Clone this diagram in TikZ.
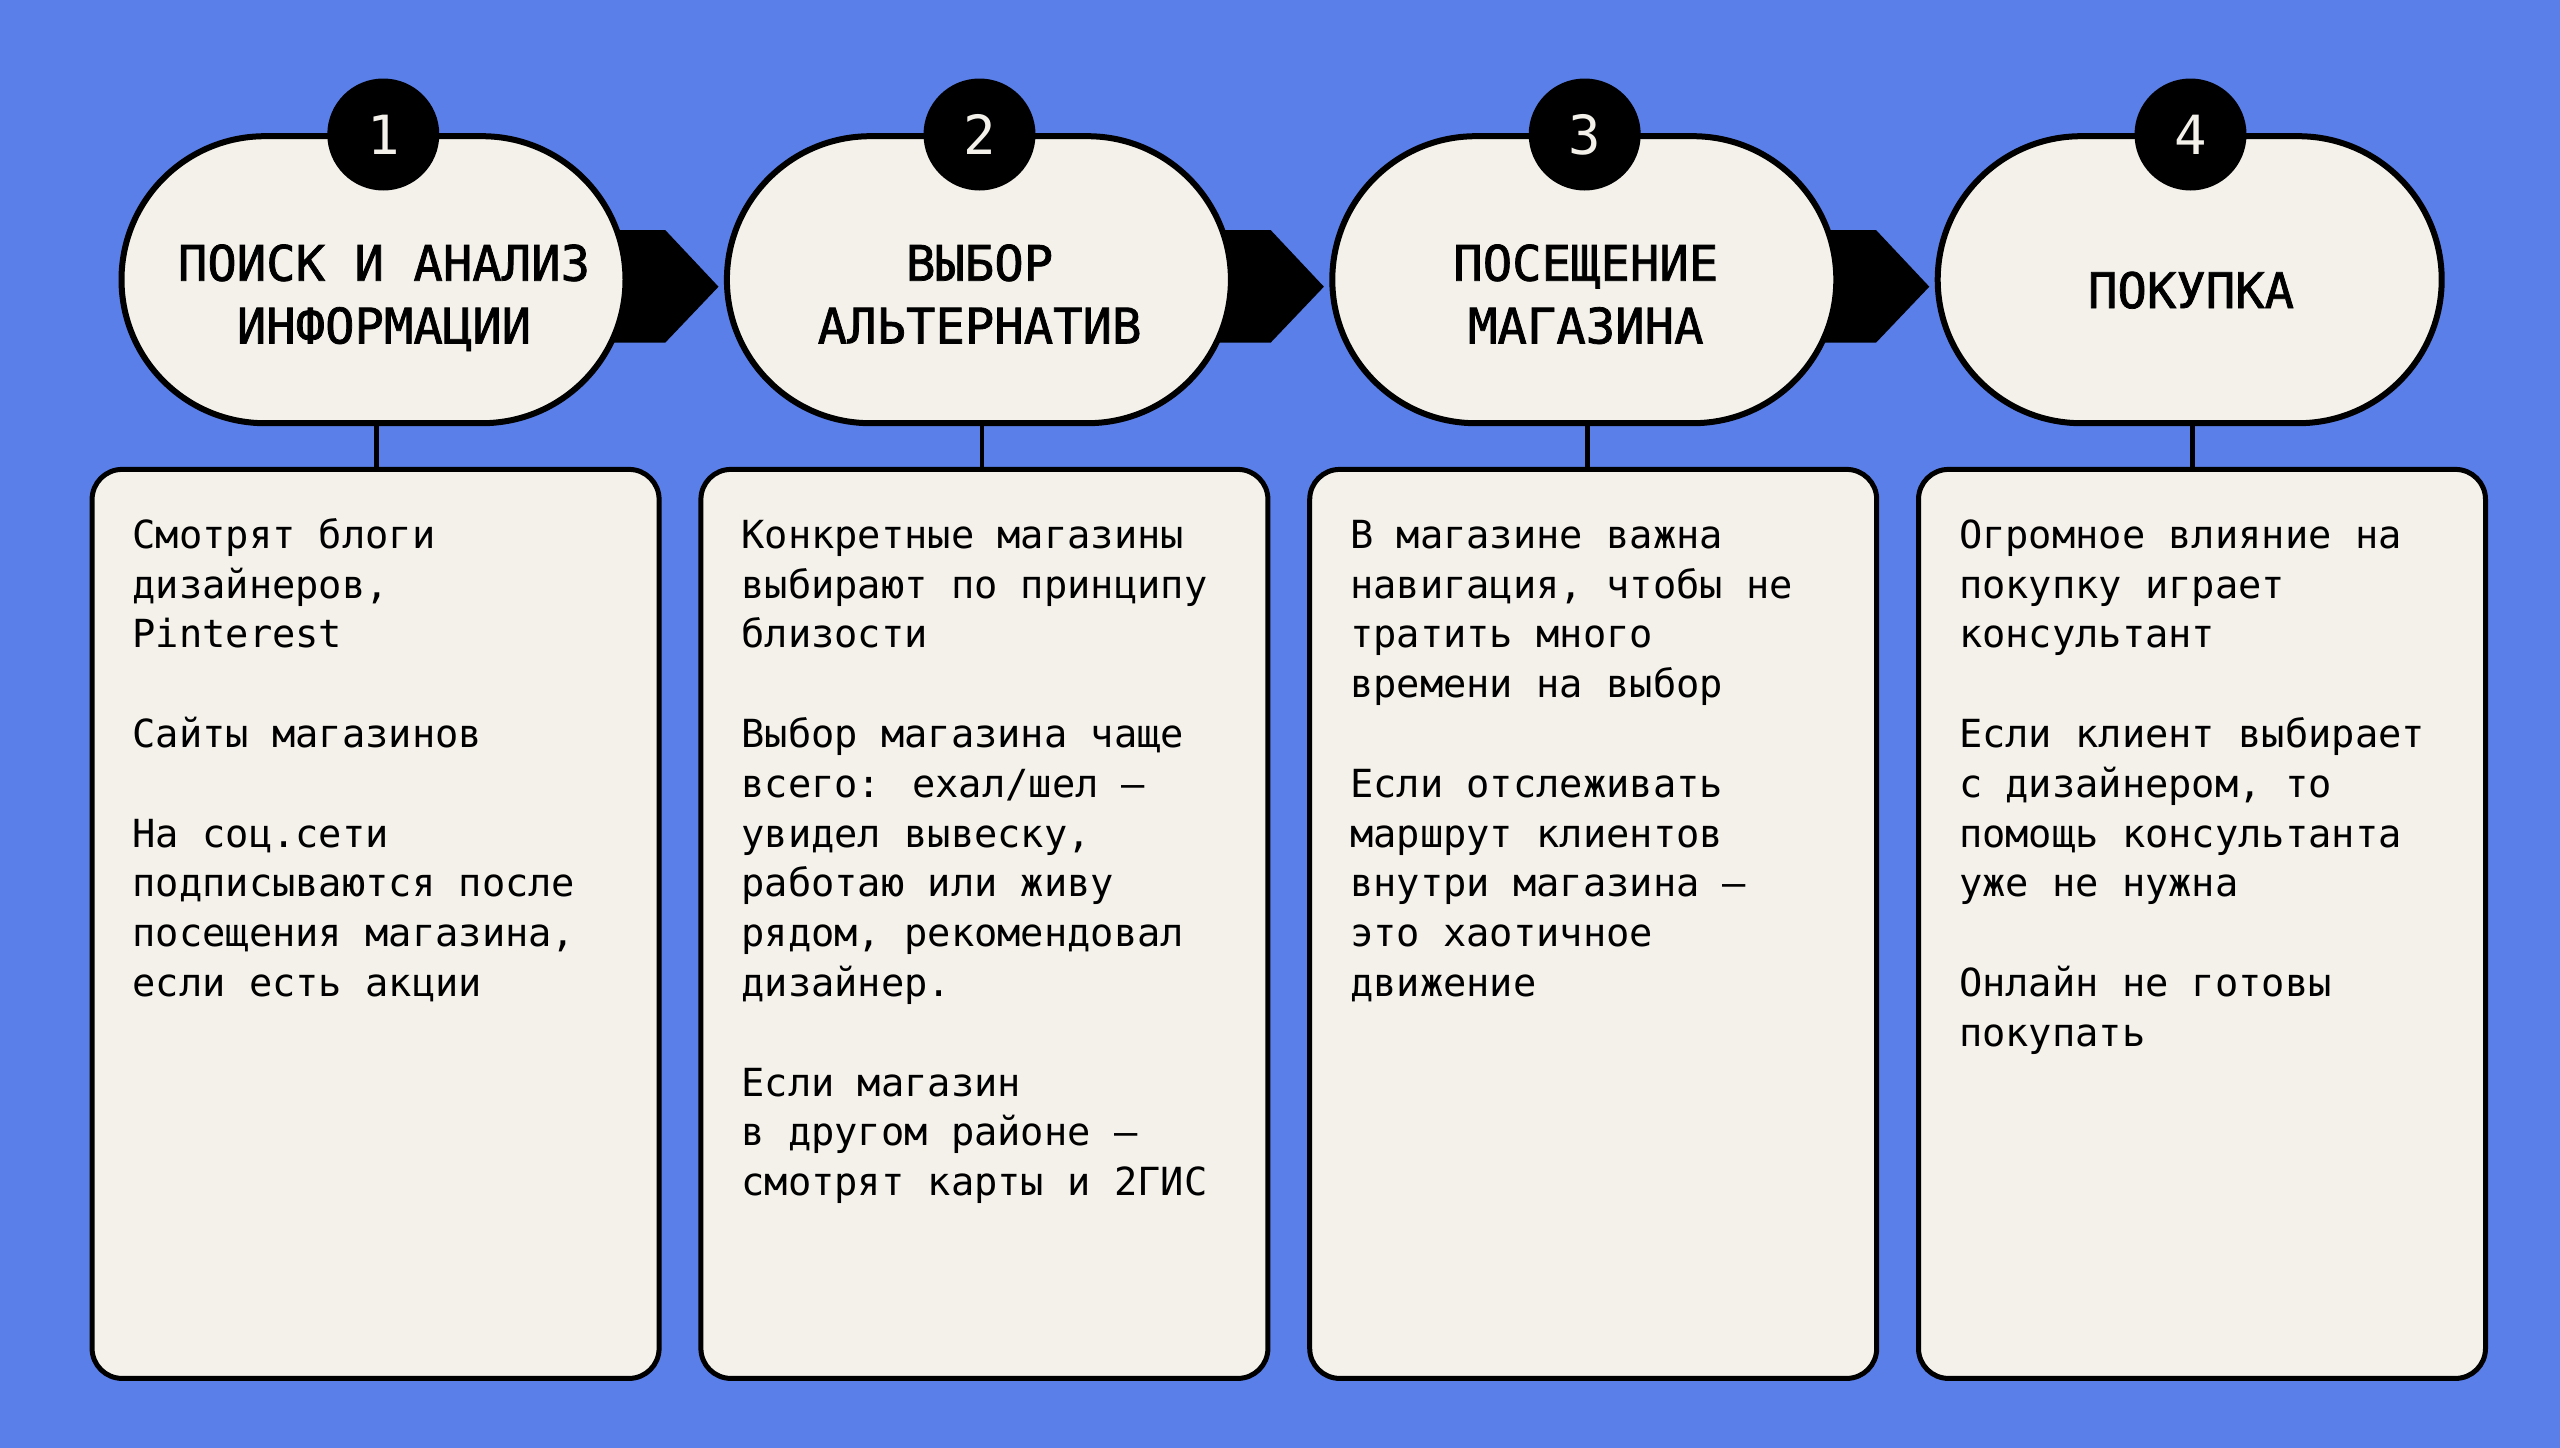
\documentclass[tikz,border=0pt]{standalone}
\usepackage{fontspec}
\usetikzlibrary{shapes.misc}
\newfontfamily\plexlike{DejaVu Sans Mono}
\newfontfamily\plexmedium[FakeBold=1.5]{DejaVu Sans Mono}
\definecolor{bgblue}{HTML}{5A7FE8}
\definecolor{cream}{HTML}{F3F1EA}
\newcommand\stagefont{\plexmedium\fontsize{48.9pt}{62.7pt}\selectfont}
\newcommand\bodytextfont{\plexlike\fontsize{38.7pt}{49.8pt}\selectfont}
\newcommand\blankrow{\\[49.8pt]}
\newcommand\stagetitle[1]{\parbox[t]{500pt}{\stagefont\centering #1}}
\newcommand\notelines[1]{\parbox[t]{530pt}{\bodytextfont\raggedright #1}}

\begin{document}
\begin{tikzpicture}[x=1pt,y=-1pt,
  stagepill/.style={rounded rectangle, draw=black, line width=6pt, fill=cream,
    minimum width=504pt, minimum height=287pt, inner sep=0pt, outer sep=0pt},
  numdisc/.style={circle, fill=black, minimum size=112pt, inner sep=0pt,
    text=cream, font=\plexlike\fontsize{54pt}{54pt}\selectfont},
  headtext/.style={inner sep=0pt, anchor=base},
  notebox/.style={rectangle, rounded corners=30pt, draw=black, line width=5pt,
    fill=cream, minimum width=567pt, minimum height=909pt, inner sep=0pt, outer sep=0pt},
  notetext/.style={inner sep=0pt, anchor=base west},
  chevron/.style={fill=black},
  link/.style={draw=black, line width=4.5pt}
]
% background
\fill[bgblue] (0,0) rectangle (2560,1448);

% stage centres
\coordinate (c1) at (373.5,279.7);
\coordinate (c2) at (978.9,279.7);
\coordinate (c3) at (1584.3,279.7);
\coordinate (c4) at (2189.7,279.7);

% chevrons between stages (partly hidden behind the pills)
\foreach \c in {c1,c2,c3}{
  \fill[chevron] ([shift={(200,-49.7)}]\c) -- ([shift={(291.7,-49.7)}]\c)
    -- ([shift={(345,7)}]\c) -- ([shift={(291.7,63)}]\c)
    -- ([shift={(200,63)}]\c) -- cycle;
}

% pills
\node[stagepill] (p1) at (c1) {};
\node[stagepill] (p2) at (c2) {};
\node[stagepill] (p3) at (c3) {};
\node[stagepill] (p4) at (c4) {};

% step numbers
\node[numdisc] (n1) at (383.3,134.5) {1};
\node[numdisc] (n2) at (979.5,134.5) {2};
\node[numdisc] (n3) at (1584.7,134.5) {3};
\node[numdisc] (n4) at (2190.5,134.5) {4};

% stage titles
\node[headtext] (h1) at (384,280.7) {\stagetitle{ПОИСК И АНАЛИЗ\\ИНФОРМАЦИИ}};
\node[headtext] (h2) at (979.6,280.7) {\stagetitle{ВЫБОР\\АЛЬТЕРНАТИВ}};
\node[headtext] (h3) at (1585.8,280.7) {\stagetitle{ПОСЕЩЕНИЕ\\МАГАЗИНА}};
\node[headtext] (h4) at (2191,308) {\stagetitle{ПОКУПКА}};

% note boxes
\node[notebox] (b1) at (375.6,923.9) {};
\node[notebox] (b2) at (984.4,923.9) {};
\node[notebox] (b3) at (1593.2,923.9) {};
\node[notebox] (b4) at (2202,923.9) {};

% links from pills to boxes
\foreach \i in {1,2,3,4}{
  \draw[link] ([xshift=3pt]p\i.south) -- ([xshift=3pt]p\i.south |- b\i.north);
}

% notes
\node[notetext] (t1) at (132.4,548.3) {\notelines{Смотрят блоги\\дизайнеров,\\Pinterest\blankrow
Сайты магазинов\blankrow
На соц.сети\\подписываются после\\посещения магазина,\\если есть акции}};
\node[notetext] (t2) at (741.2,548.3) {\notelines{Конкретные магазины\\выбирают по принципу\\близости\blankrow
Выбор магазина чаще\\всего: ехал/шел —\\увидел вывеску,\\работаю или живу\\рядом, рекомендовал\\дизайнер.\blankrow
Если магазин\\в другом районе —\\смотрят карты и 2ГИС}};
\node[notetext] (t3) at (1350,548.3) {\notelines{В магазине важна\\навигация, чтобы не\\тратить много\\времени на выбор\blankrow
Если отслеживать\\маршрут клиентов\\внутри магазина —\\это хаотичное\\движение}};
\node[notetext] (t4) at (1958.8,548.3) {\notelines{Огромное влияние на\\покупку играет\\консультант\blankrow
Если клиент выбирает\\с дизайнером, то\\помощь консультанта\\уже не нужна\blankrow
Онлайн не готовы\\покупать}};
\end{tikzpicture}
\end{document}
